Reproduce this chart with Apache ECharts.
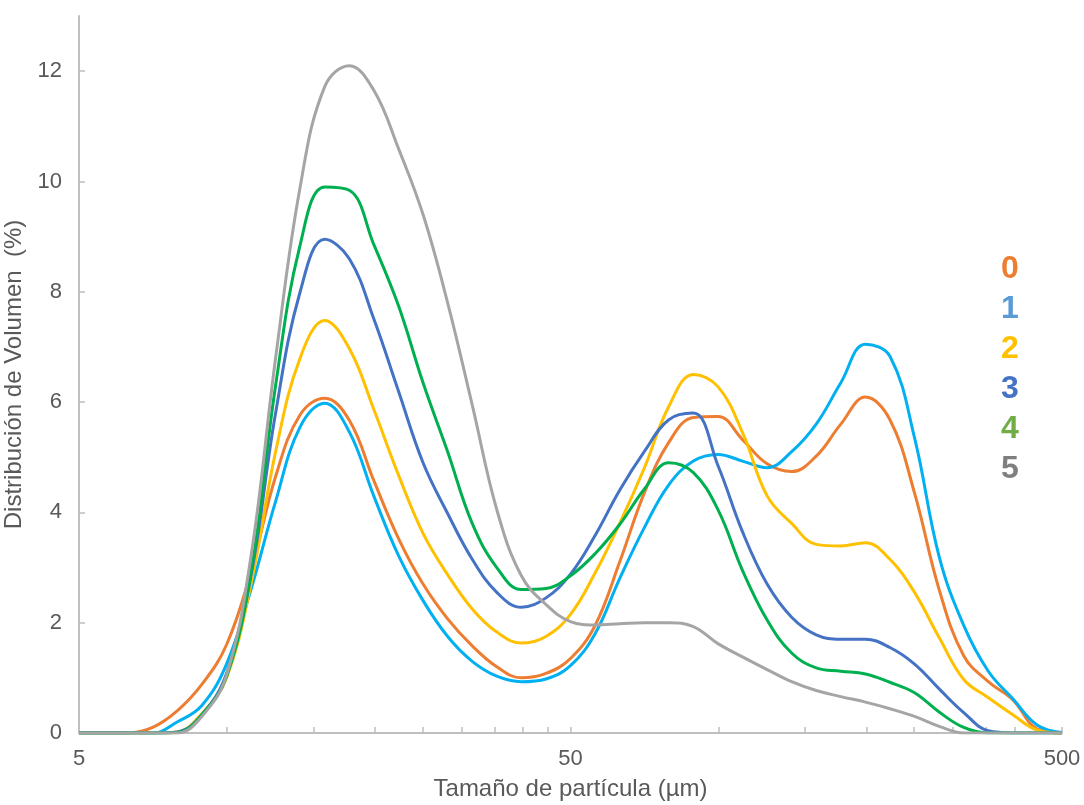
<!DOCTYPE html>
<html>
<head>
<meta charset="utf-8">
<script src="https://cdn.jsdelivr.net/npm/echarts@6/dist/echarts.min.js"></script>
<style>html,body{margin:0;padding:0;background:#fff;}#c{width:1084px;height:805px;}</style>
</head>
<body>
<div id="c"></div>
<script>
// Particle size (µm) - log-spaced bins
const sizes = [5.00,5.61,6.30,7.06,7.92,8.89,9.98,11.19,12.56,14.09,15.81,17.74,19.91,22.33,25.06,28.12,31.55,35.40,39.72,44.57,50.00,56.10,62.95,70.63,79.24,88.91,99.76,111.9,125.6,140.9,158.1,177.4,199.1,223.3,250.6,281.2,315.5,354.0,397.2,445.7,500.0];
const seriesNames = ['0','1','2','3','4','5'];
const s0 = [0,0,0,0.1,0.4,0.88,1.6,2.92,4.65,5.77,6.07,5.67,4.57,3.53,2.7,2.07,1.58,1.2,1.0,1.08,1.35,1.95,3.1,4.35,5.27,5.72,5.74,5.32,4.88,4.74,5.02,5.6,6.09,5.68,4.35,2.6,1.4,0.93,0.6,0.07,0];
const s1 = [0,0,0,0,0.2,0.5,1.25,2.6,4.2,5.55,5.98,5.46,4.29,3.22,2.4,1.75,1.3,1.03,0.93,0.98,1.22,1.8,2.8,3.72,4.5,4.93,5.05,4.93,4.81,5.1,5.6,6.35,7.05,6.83,5.35,3.2,1.95,1.12,0.62,0.14,0.01];
const s2 = [0,0,0,0,0.02,0.35,1.0,2.7,5.1,6.8,7.48,6.97,5.86,4.68,3.62,2.87,2.25,1.83,1.63,1.75,2.15,2.9,3.8,4.8,5.92,6.5,6.28,5.45,4.3,3.8,3.42,3.39,3.45,3.15,2.55,1.73,0.97,0.64,0.33,0.05,0];
const s3 = [0,0,0,0,0.02,0.33,1.08,2.85,5.8,8.0,8.95,8.6,7.5,6.2,4.9,3.98,3.15,2.55,2.28,2.45,2.88,3.58,4.4,5.1,5.68,5.8,4.85,3.65,2.7,2.1,1.78,1.7,1.7,1.55,1.25,0.8,0.37,0.04,0,0,0];
const s4 = [0,0,0,0,0.01,0.33,1.02,2.9,6.3,8.85,9.9,9.84,8.85,7.75,6.35,5.1,3.8,3.0,2.6,2.62,2.85,3.25,3.78,4.42,4.9,4.72,4.05,2.95,2.05,1.45,1.18,1.12,1.07,0.92,0.73,0.38,0.1,0,0,0,0];
const s5 = [0,0,0,0,0,0.3,1.05,3.2,6.8,9.9,11.72,12.1,11.65,10.6,9.4,7.8,5.95,4.05,2.85,2.33,2.02,1.96,1.98,2.0,2.0,1.93,1.62,1.38,1.15,0.93,0.77,0.66,0.56,0.44,0.3,0.12,0,0,0,0,0];
const xLabelValues = [5, 50, 500];
const xTickValues = [10,15,20,25,30,35,40,45,50,100,150,200,250,300,350,400,450,500];
const yTickValues = [0,2,4,6,8,10,12];

const lineColors = ['#ED7D31','#00B0F0','#FFC000','#4472C4','#00B050','#A5A5A5'];
const legendColors = ['#ED7D31','#5B9BD5','#FFC000','#4472C4','#70AD47','#7F7F7F'];
const allValues = [s0,s1,s2,s3,s4,s5];

const chart = echarts.init(document.getElementById('c'), null, {renderer:'canvas'});
const font = 'Liberation Sans, Arial, sans-serif';
const axisGray = '#BFBFBF';
const textGray = '#595959';

const option = {
  animation: false,
  backgroundColor: '#fff',
  grid: {left: 79, right: 22, top: 16, bottom: 72, outerBoundsMode: 'none'},
  legend: {
    orient: 'vertical',
    left: 991, top: 245,
    icon: 'rect', itemWidth: 0, itemHeight: 0, itemGap: 2,
    selectedMode: false,
    textStyle: {fontSize: 32, lineHeight: 38, fontWeight: 'bold', fontFamily: font, padding: [0,0,0,0]},
    data: seriesNames.map((n,i)=>({name:n, textStyle:{color: legendColors[i]}}))
  },
  xAxis: {
    type: 'value',
    min: Math.log10(5), max: Math.log10(500),
    name: 'Tamaño de partícula (µm)',
    nameLocation: 'middle', nameGap: 44,
    nameTextStyle: {fontSize: 24, color: textGray, fontFamily: font},
    axisLine: {show: true, lineStyle: {color: axisGray, width: 2}},
    axisTick: {show: true, inside: true, length: 6, lineStyle: {color: axisGray, width: 1.5},
      customValues: xTickValues.map(v=>Math.log10(v))},
    axisLabel: {fontSize: 22, color: textGray, fontFamily: font, margin: 15,
      customValues: xLabelValues.map(v=>Math.log10(v)),
      formatter: v => String(Math.round(Math.pow(10, v)))},
    splitLine: {show: false}
  },
  yAxis: {
    type: 'value', min: 0, max: 13,
    name: 'Distribución de Volumen  (%)',
    nameLocation: 'middle', nameGap: 46,
    nameTextStyle: {fontSize: 24, color: textGray, fontFamily: font},
    axisLine: {show: true, lineStyle: {color: axisGray, width: 2}},
    axisTick: {show: true, inside: true, length: 6, lineStyle: {color: axisGray, width: 1.5},
      customValues: yTickValues},
    axisLabel: {fontSize: 22, color: textGray, fontFamily: font, margin: 17,
      customValues: yTickValues},
    splitLine: {show: false}
  },
  series: allValues.map((vals,i)=>({
    name: seriesNames[i],
    type: 'line',
    smooth: 0.4,
    showSymbol: false,
    lineStyle: {color: lineColors[i], width: 3},
    itemStyle: {color: lineColors[i]},
    data: sizes.map((s,j)=>[Math.log10(s), vals[j]])
  }))
};
chart.setOption(option);
</script>
</body>
</html>
